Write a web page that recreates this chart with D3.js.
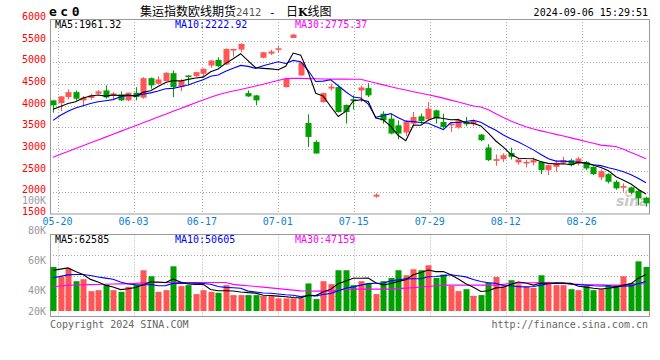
<!DOCTYPE html>
<html><head><meta charset="utf-8">
<script src="https://cdn.jsdelivr.net/npm/d3@7/dist/d3.min.js"></script>
<style>body{margin:0;background:#fff;}svg{display:block;}</style>
</head><body>
<script>
const dates = ["05-17","05-20","05-21","05-22","05-23","05-24","05-27","05-28","05-29","05-30","05-31",
"06-03","06-04","06-05","06-06","06-07","06-11","06-12","06-13","06-14","06-17","06-18","06-19","06-20","06-21","06-24","06-25","06-26","06-27","06-28",
"07-01","07-02","07-03","07-04","07-05","07-08","07-09","07-10","07-11","07-12","07-15","07-16","07-17","07-18","07-19","07-22","07-23","07-24","07-25","07-26","07-29","07-30","07-31",
"08-01","08-02","08-05","08-06","08-07","08-08","08-09","08-12","08-13","08-14","08-15","08-16","08-19","08-20","08-21","08-22","08-23","08-26","08-27","08-28","08-29","08-30",
"09-02","09-03","09-04","09-05","09-06"];
const tickLabels = ["05-20","06-03","06-17","07-01","07-15","07-29","08-12","08-26"];
const priceTicks = [1500,2000,2500,3000,3500,4000,4500,5000,5500,6000];
const volTicks = [100000,80000,60000,40000,20000];

const open = [4122,4060,4198,4313,4122,4179,4276,4352,4225,4260,
 4122,4299,4184,4635,4506,4566,4750,4428,4697,4681,
 4736,4927,5058,4950,5271,5294,4290,4237,5105,5200,
 5288,4428,5563,4697,3600,3163,4083,4395,4428,4015,
 4150,4352,4405,1900,3816,3701,3547,3379,3586,3754,
 3685,3892,3623,3547,3494,3623,3570,3333,3034,2727,
 2765,2910,2689,2666,2689,2703,2512,2588,2680,2742,
 2666,2703,2588,2345,2420,2244,2106,2115,2037,1876];
const high = [4130,4220,4375,4352,4225,4276,4359,4467,4313,4329,
 4299,4428,4658,4650,4681,4773,4812,4612,4700,4780,
 4860,5050,5117,5320,5310,5440,4352,4250,5240,5290,
 5387,4640,5655,5010,3800,3200,4300,4506,4450,4030,
 4237,4467,4520,1977,3869,3816,3662,3662,3853,3816,
 4083,3908,3816,3623,3701,3738,3680,3340,3110,2873,
 2900,3034,2800,2758,2800,2720,2640,2742,2818,2780,
 2818,2720,2600,2528,2440,2283,2206,2130,2060,1899];
const low = [3839,3876,4145,4122,3984,4138,4260,4161,4145,4106,
 4099,4122,4161,4391,4490,4560,4198,4336,4467,4670,
 4658,4874,4890,4940,5134,5233,4200,4007,5090,5170,
 5233,4420,5560,4690,3048,2896,4070,4352,3840,3586,
 3908,4083,4198,1876,3586,3340,3225,3301,3524,3586,
 3662,3586,3471,3393,3471,3524,3530,3180,2720,2611,
 2700,2758,2640,2574,2620,2420,2397,2474,2650,2600,
 2620,2512,2400,2283,2206,2060,2014,1960,1700,1669];
const close = [4007,4214,4313,4161,4184,4237,4329,4191,4283,4122,
 4299,4198,4635,4467,4605,4759,4428,4582,4658,4773,
 4851,5041,4910,5310,5310,5425,4214,4122,5233,5250,
 5324,4621,5640,5002,3278,2896,4290,4440,3853,3853,
 4110,4420,4237,1945,3662,3356,3356,3639,3738,3646,
 3931,3701,3508,3586,3662,3570,3646,3202,2742,2765,
 2857,2818,2758,2703,2742,2512,2627,2680,2742,2627,
 2780,2551,2420,2489,2244,2092,2145,1991,1861,1747];
const ma5 = [3915,3980,4050,4090,4176,4222,4245,4220,4245,4232,
 4245,4219,4307,4344,4441,4533,4579,4568,4606,4640,
 4658,4781,4847,4977,5084,5199,5034,4876,4861,4849,
 4829,4910,5214,5167,4773,4287,4221,3981,3751,3866,
 4109,4135,4095,3713,3675,3524,3311,3192,3550,3547,
 3662,3731,3705,3674,3678,3605,3594,3533,3364,3185,
 3042,2877,2788,2780,2776,2707,2668,2653,2661,2638,
 2691,2676,2624,2573,2497,2359,2278,2192,2067,1961];
const ma10 = [3660,3780,3870,3945,4000,4050,4090,4115,4140,4204,
 4233,4232,4264,4295,4337,4389,4399,4438,4475,4540,
 4596,4680,4707,4792,4862,4929,4907,4861,4919,4967,
 5014,4972,5045,5014,4811,4558,4566,4597,4459,4320,
 4198,4178,4038,3732,3771,3817,3723,3643,3632,3611,
 3593,3521,3448,3612,3612,3634,3663,3619,3519,3431,
 3324,3236,3161,3072,2980,2875,2773,2720,2720,2707,
 2699,2672,2638,2617,2567,2525,2477,2408,2320,2223];
const ma30 = [2812,2878,2944,3010,3076,3142,3208,3274,3341,3407,
 3473,3539,3605,3671,3737,3803,3869,3935,4001,4067,
 4133,4193,4254,4298,4337,4375,4414,4453,4496,4539,
 4582,4625,4630,4630,4625,4620,4615,4612,4612,4612,
 4610,4610,4565,4522,4480,4437,4396,4360,4323,4287,
 4251,4215,4174,4128,4083,4038,3993,3970,3904,3814,
 3725,3647,3579,3514,3460,3419,3379,3338,3298,3257,
 3217,3174,3131,3090,3073,3056,2995,2920,2850,2775];
const volume = [75600,58500,72900,51200,54600,34100,35800,45600,35800,32900,
 41500,45600,70000,59700,32900,35800,76800,42700,44400,29000,
 35800,32900,31200,44400,27300,27300,27300,27300,25600,25600,
 21700,21700,21700,21700,47300,20500,51200,46100,70000,70000,
 44400,51200,47300,29000,51200,56800,70000,61400,71700,70000,
 78500,56800,62600,43200,34100,37500,26100,27300,49000,58500,
 42700,52900,45600,41500,39800,61400,50000,44400,44400,37500,
 35800,42700,35800,37500,44400,44400,59700,48300,85300,75600];
const vma5 = [70000,72000,74000,68000,62600,54300,49700,44300,41200,36800,
 38300,40300,45200,49900,49900,48800,55000,49600,46500,45700,
 45700,37000,34700,34700,34300,32600,31500,30700,27000,26600,
 25500,24400,23300,22500,26800,26600,32500,37400,47000,51600,
 56300,56300,56600,48400,44600,47100,50900,53700,62200,66000,
 70300,67700,67900,62200,55000,46800,40700,33600,34800,39700,
 40700,46100,49700,48200,44500,48200,47700,47400,48000,47500,
 42400,41000,39200,37900,39200,41000,44400,46900,56400,62585];
const vma10 = [57000,59500,62000,62600,62600,61000,58500,56500,54500,49700,
 46300,45000,44700,45600,43400,43600,47700,47400,48200,47800,
 47300,46000,42100,40600,40000,39200,34200,32700,30800,30500,
 29100,27900,27000,24700,26700,26000,28400,30300,34800,39200,
 41500,44400,47000,47700,48100,51700,53600,55100,55300,55300,
 58700,59300,60800,62200,60500,58600,54200,50800,48500,47400,
 43800,43400,41700,41500,42100,44500,46900,48600,48100,46000,
 45300,44300,43300,42900,43400,41700,42700,43100,47100,50605];
const vma30 = [41100,42900,44400,44700,45000,45300,45600,45900,46300,46600,
 47000,47500,48300,49000,49000,49000,49000,49000,49000,49000,
 49000,49000,49000,49000,45700,44500,43300,42200,41000,39700,
 38400,37100,35800,34600,34400,34100,34100,34300,35800,37400,
 37500,37500,37500,37500,37500,37500,38400,39300,40200,41100,
 42200,43300,44400,44400,44400,44400,44400,44400,44400,44400,
 45800,47300,47700,48100,48500,48900,48400,47900,47300,46600,
 46000,45500,45200,45000,44700,44500,44800,45600,46400,47159];

const RED = "#ff5555", GREEN = "#00a000", GRID = "#a8a8a8", AXIS = "#999999";
const MONO = "'DejaVu Sans Mono', monospace";
const n = dates.length;
const idx = d3.range(n);

const svg = d3.select("body").append("svg").attr("width", 660).attr("height", 360);

const xc = d3.scaleLinear().domain([0, n - 1]).range([53, 646]);
const xg = d3.scaleLinear().domain([0, n - 1]).range([50, 650]);
const y = d3.scaleLinear().domain([1500, 6000]).range([214, 19]);
const yv = d3.scaleLinear().domain([0, 131400]).range([311, 234.5]);
const volPane = d3.scaleLinear().domain([0, 4]).range([316.5, 234.5]);
const volLabelY = d3.scaleLinear().domain([40000, 100000]).range([293.5, 203.5]);

// ---------- header ----------
svg.append("text").attr("x", 49).attr("y", 16).attr("font-family", MONO).attr("font-weight", "bold")
  .attr("font-size", 13).attr("letter-spacing", 3.5).attr("fill", "#000").text("ec0");
const title = svg.append("text").attr("y", 16).attr("font-family", "'Noto Sans CJK SC', sans-serif")
  .attr("font-size", 12).attr("fill", "#000");
title.append("tspan").attr("x", 140).text("集运指数欧线期货");
title.append("tspan").attr("font-family", MONO).attr("font-size", 10.5).attr("fill", "#555").text("2412");
title.append("tspan").attr("x", 269).attr("font-family", MONO).attr("font-size", 11).text("-");
title.append("tspan").attr("x", 286).text("日");
title.append("tspan").attr("font-weight", "bold").attr("font-family", "'DejaVu Serif', serif").attr("font-size", 11).text("K");
title.append("tspan").text("线图");
svg.append("text").attr("x", 648).attr("y", 16).attr("text-anchor", "end").attr("font-family", MONO)
  .attr("font-size", 10).attr("fill", "#000").text("2024-09-06 15:29:51");

// ---------- grids ----------
const tickIdx = tickLabels.map(t => dates.indexOf(t));
const gMain = svg.append("g");
gMain.selectAll("line.hg").data(priceTicks.filter(v => v > 1500 && v < 6000)).join("line")
  .attr("x1", 50).attr("x2", 650).attr("y1", d => Math.round(y(d)) + 0.5).attr("y2", d => Math.round(y(d)) + 0.5)
  .attr("stroke", GRID).attr("stroke-dasharray", "1,2");
gMain.selectAll("line.vg").data(tickIdx).join("line")
  .attr("x1", d => Math.round(xg(d)) + 0.5).attr("x2", d => Math.round(xg(d)) + 0.5)
  .attr("y1", 19).attr("y2", 214).attr("stroke", GRID).attr("stroke-dasharray", "1,2");
const gVolGrid = svg.append("g");
gVolGrid.selectAll("line").data([1, 2, 3]).join("line")
  .attr("x1", 50).attr("x2", 650).attr("y1", d => Math.round(volPane(d)) + 0.5).attr("y2", d => Math.round(volPane(d)) + 0.5)
  .attr("stroke", GRID).attr("stroke-dasharray", "1,2");
svg.append("g").selectAll("line").data(tickIdx).join("line")
  .attr("x1", d => Math.round(xg(d)) + 0.5).attr("x2", d => Math.round(xg(d)) + 0.5)
  .attr("y1", 234.5).attr("y2", 316.5).attr("stroke", GRID).attr("stroke-dasharray", "1,2");

// ---------- frames ----------
svg.append("rect").attr("x", 50.5).attr("y", 19.5).attr("width", 599).attr("height", 194.5)
  .attr("fill", "none").attr("stroke", AXIS);
svg.append("rect").attr("x", 50.5).attr("y", 234.5).attr("width", 599).attr("height", 82)
  .attr("fill", "none").attr("stroke", AXIS);

// ---------- axis labels ----------
svg.append("g").selectAll("text").data(priceTicks).join("text")
  .attr("x", 46).attr("y", d => y(d) + 1).attr("text-anchor", "end").attr("font-family", MONO)
  .attr("font-size", 10).attr("fill", "#ff0000").text(d => d);
svg.append("g").selectAll("text").data(volTicks).join("text")
  .attr("x", 46).attr("y", d => Math.min(volLabelY(d), 314.5)).attr("text-anchor", "end").attr("font-family", MONO)
  .attr("font-size", 10).attr("fill", "#999").text(d => (d / 1000) + "K");
svg.append("g").selectAll("text").data(tickIdx).join("text")
  .attr("x", d => xg(d)).attr("y", 225).attr("text-anchor", "middle").attr("font-family", MONO)
  .attr("font-size", 10).attr("fill", "#0a7fd8").text(d => dates[d]);

// ---------- watermark ----------
svg.append("text").attr("x", 616).attr("y", 206).attr("font-family", "'DejaVu Sans', sans-serif")
  .attr("font-weight", "bold").attr("font-style", "italic").attr("font-size", 14).attr("fill", "#c8c8c8").text("sina");
svg.append("circle").attr("cx", 629).attr("cy", 193).attr("r", 3.2).attr("fill", "none").attr("stroke", "#f3b0b0").attr("stroke-width", 1.2);

// ---------- candles ----------
const gC = svg.append("g");
const col = i => close[i] >= open[i] ? RED : GREEN;
gC.selectAll("line").data(idx).join("line")
  .attr("x1", i => Math.round(xc(i)) + 0.5).attr("x2", i => Math.round(xc(i)) + 0.5)
  .attr("y1", i => y(high[i])).attr("y2", i => y(low[i])).attr("stroke", col);
gC.selectAll("rect").data(idx).join("rect")
  .attr("x", i => Math.round(xc(i)) - 2.5).attr("width", 6)
  .attr("y", i => y(Math.max(open[i], close[i])))
  .attr("height", i => Math.max(1.5, Math.abs(y(open[i]) - y(close[i]))))
  .attr("fill", col);

// ---------- MA lines (price) ----------
const priceLine = arr => d3.line().x(i => xc(i)).y(i => y(arr[i]))(idx);
[[ma30, "#ff00ff"], [ma10, "#0000ff"], [ma5, "#000000"]].forEach(([arr, c]) => {
  svg.append("path").attr("d", priceLine(arr)).attr("fill", "none").attr("stroke", c).attr("stroke-width", 1.1);
});

// ---------- volume ----------
svg.append("g").selectAll("rect").data(idx).join("rect")
  .attr("x", i => Math.round(xc(i)) - 2.5).attr("width", 6)
  .attr("y", i => yv(volume[i])).attr("height", i => yv(0) - yv(volume[i])).attr("fill", col);
const volLine = arr => d3.line().x(i => xc(i)).y(i => yv(arr[i]))(idx);
[[vma30, "#ff00ff"], [vma10, "#0000ff"], [vma5, "#000000"]].forEach(([arr, c]) => {
  svg.append("path").attr("d", volLine(arr)).attr("fill", "none").attr("stroke", c).attr("stroke-width", 1.1);
});

// ---------- legends ----------
const last = n - 1;
const legend = (yy, items) => svg.append("g").selectAll("text").data(items).join("text")
  .attr("x", d => d[0]).attr("y", yy).attr("font-family", MONO).attr("font-size", 10)
  .attr("fill", d => d[2]).text(d => d[1]);
legend(27.5, [[55, "MA5:1961.32", "#000"], [175, "MA10:2222.92", "#0000ff"], [295, "MA30:2775.37", "#ff00ff"]]);
legend(242.5, [[55, "MA5:" + vma5[last], "#000"], [175, "MA10:" + vma10[last], "#0000ff"], [295, "MA30:" + vma30[last], "#ff00ff"]]);

// ---------- footer ----------
svg.append("text").attr("x", 50).attr("y", 327.5).attr("font-family", MONO).attr("font-size", 10)
  .attr("fill", "#666").text("Copyright 2024 SINA.COM");
svg.append("text").attr("x", 648).attr("y", 327.5).attr("text-anchor", "end").attr("font-family", MONO)
  .attr("font-size", 10).attr("fill", "#666").text("http://finance.sina.com.cn");
</script>
</body></html>
